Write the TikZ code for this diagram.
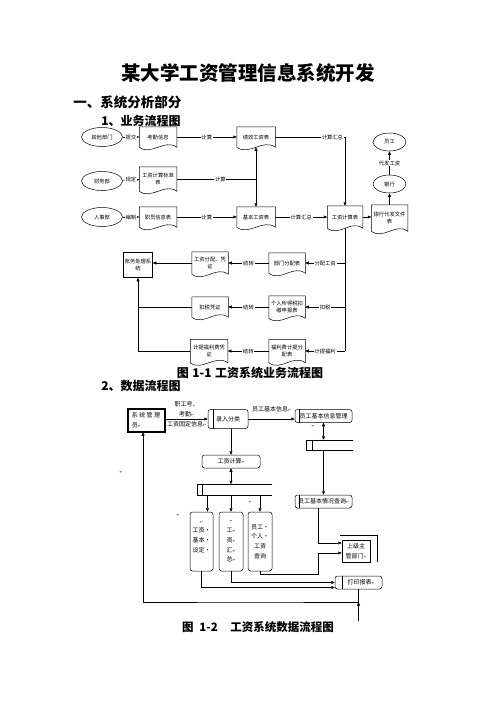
\documentclass[tikz,border=0pt]{standalone}
\usepackage{fontspec}
\setmainfont{Noto Sans CJK SC}
\newfontfamily\dejavu{DejaVu Sans}
\usetikzlibrary{shapes.geometric,arrows.meta,calc}

\newcommand{\ftop}{\fontsize{5.3}{6.3}\selectfont}
\newcommand{\fbot}{\fontsize{6}{9.7}\selectfont}
\newcommand{\retmark}{{\dejavu\fontsize{3.5}{3.5}\selectfont ↵}}
% document outline with wavy bottom
\newcommand{\docshape}[1]{%
	\draw (#1.south west) -- (#1.north west) -- (#1.north east) -- (#1.south east)
		.. controls +(-12,-9) and +(12,9) .. (#1.south west);}
% open data store with a small compartment
\newcommand{\storeshape}[2]{%
	\draw (#1.north east) -- (#1.north west) -- (#1.south west) -- (#1.south east);
	\draw ($(#1.north west)+(#2,0)$) -- ($(#1.south west)+(#2,0)$);}
% bar on the left of a process box
\newcommand{\procbar}[2]{%
	\draw ($(#1.north west)+(#2,0)$) -- ($(#1.south west)+(#2,0)$);}

\tikzset{
	ent/.style={ellipse, draw, minimum width=41, minimum height=19, inner sep=0, font=\ftop},
	doc/.style={rectangle, minimum width=37, minimum height=20, inner sep=0.5, align=center, font=\ftop},
	lbl/.style={fill=white, inner sep=0.8, font=\ftop},
	proc/.style={rectangle, draw, rounded corners=2.5, minimum height=13, inner sep=1, align=center, font=\fbot},
	blbl/.style={inner sep=0.5, align=center, font=\fbot},
	arr/.style={-{Triangle[length=3.5pt,width=3pt]}},
	arrs/.style={{Triangle[length=3.5pt,width=3pt]}-{Triangle[length=3.5pt,width=3pt]}},
	head/.style={anchor=west, inner sep=0, font=\fontsize{12}{13}\selectfont\bfseries}
}

\begin{document}
\begin{tikzpicture}[x=1pt, y=-1pt, line width=0.5pt]
		\useasboundingbox (0,0) rectangle (496,702);
		
		% Headings
		\node[font=\fontsize{19.5}{20}\selectfont\bfseries] (title) at (248,73) {某大学工资管理信息系统开发};
		\node[head, font=\fontsize{13.5}{14}\selectfont\bfseries] (sec1) at (73,102) {一、系统分析部分};
		\node[head] (sub1) at (101,121) {1、业务流程图};
		
		% Business flow: entities
		\node[ent] (qt) at (102,137) {其他部门};
		\node[ent] (cw) at (102,181) {财务部};
		\node[ent] (rs) at (102,217) {人事部};
		\node[ent, minimum width=33, minimum height=18] (yg) at (389.5,142) {员工};
		\node[ent, minimum width=33, minimum height=18] (yh) at (389.5,184) {银行};
		\node[draw, minimum width=29, minimum height=25, inner sep=0, align=center, font=\ftop] (zw) at (138,265) {账务处理系\\统};
		
		% Business flow: documents
		\node[doc] (kq) at (158,137) {考勤信息};
		\node[doc, minimum height=24] (bz) at (158,179) {工资计算标准\\表};
		\node[doc] (zy) at (158,217) {职员信息表};
		\node[doc, minimum width=38] (jx) at (256,137) {绩效工资表};
		\node[doc, minimum width=38] (jb) at (256,217) {基本工资表};
		\node[doc, minimum width=35, minimum height=22] (js) at (345,217) {工资计算表};
		\node[doc, minimum width=36, minimum height=26] (dfwj) at (389.5,218) {银行代发文件\\表};
		\node[doc, minimum width=36] (bm) at (287,263) {部门分配表};
		\node[doc, minimum width=36, minimum height=22] (fp) at (210,263) {工资分配、凭\\证};
		\node[doc, minimum width=36, minimum height=22] (gs) at (287,307) {个人所得税扣\\缴申报表};
		\node[doc, minimum width=36] (ks) at (210,307) {扣税凭证};
		\node[doc, minimum width=36, minimum height=23] (fl) at (287,351) {福利费计提分\\配表};
		\node[doc, minimum width=37, minimum height=23] (jt) at (209,351) {计提福利费凭\\证};
		\foreach \d in {kq,bz,zy,jx,jb,js,dfwj,bm,fp,gs,ks,fl,jt}
			\docshape{\d};
		
		% Business flow: connections
		\draw[arr] (qt) -- node[lbl]{提交} (kq);
		\draw[arr] (cw) -- node[lbl]{规定} (bz);
		\draw[arr] (rs) -- node[lbl]{编制} (zy);
		\draw[arr] (kq) -- node[lbl]{计算} (jx);
		\draw (bz) -- (bz -| jx) node[lbl, pos=0.55]{计算};
		\draw[arrs] (jx) -- (jb);
		\draw[arr] (zy) -- node[lbl]{计算} (jb);
		\draw[arr] (jb) -- node[lbl]{计算汇总} (js);
		\draw[arr] (jx) -- (jx -| js) node[lbl, pos=0.82]{计算汇总} -- (js);
		\draw[arr] (js) -- (js -| dfwj.west);
		\draw[arr] (dfwj) -- (yh);
		\draw[arr] (yh) -- node[lbl]{代发工资} (yg);
		\draw (js.south) -- (js.south |- fl);
		\draw[arr] (js.south |- bm) -- node[lbl]{分配工资} (bm);
		\draw[arr] (js.south |- gs) -- node[lbl]{扣税} (gs);
		\draw[arr] (js.south |- fl) -- node[lbl]{计提福利} (fl);
		\draw[arr] (bm) -- node[lbl]{结转} (fp);
		\draw[arr] (gs) -- node[lbl]{结转} (ks);
		\draw[arr] (fl) -- node[lbl]{结转} (jt);
		\draw[arr] (fp) -- (fp -| zw.east);
		\draw (ks) -- (ks -| zw.south);
		\draw[arr] (jt) -| (zw.south);
		
		\node[font=\fontsize{12}{13}\selectfont\bfseries] (cap1) at (250,373) {图\hspace{0.3em}1-1\hspace{0.3em}工资系统业务流程图};
		\node[head] (sub2) at (101,386) {2、数据流程图};
		
		% Data flow: nodes
		\node[draw, minimum width=38, minimum height=24, inner sep=2, align=left, font=\fbot] (gly) at (146,420) {系~统~管~理\\员\retmark};
		\draw ($(gly.north west)+(1.5,1.5)$) rectangle ($(gly.south east)+(-1.5,-1.5)$);
		\node[proc, minimum width=40, minimum height=19] (lrfl) at (228,419) {录入分类};
		\node[proc, minimum width=57] (ygxx) at (323.5,416) {员工基本信息管理};
		\node[minimum width=47, minimum height=10] (ds1) at (329.5,445) {};
		\node[proc, minimum width=57] (cx) at (323.5,501.5) {员工基本情况查询\retmark};
		\node[proc, minimum width=58] (gzjs) at (231,461.5) {工资计算\retmark};
		\node[minimum width=75, minimum height=10] (ds2) at (234.5,489.5) {};
		\node[proc, minimum width=23, minimum height=59] (bA) at (201.5,541.5) {\retmark\\工资·\\基本·\\设定·\\ \mbox{}};
		\node[proc, minimum width=24, minimum height=59] (bB) at (231,541.5) {\retmark\\工\retmark\\资\retmark\\汇\retmark\\总\retmark};
		\node[proc, minimum width=24, minimum height=59] (bC) at (260,541.5) {员工·\\个人·\\工资\\查询};
		\node[draw, minimum width=28, minimum height=22, inner sep=0.5, align=center, font=\fbot] (sj) at (356,551) {上级主\\管部门\retmark};
		\node[proc, minimum width=47] (dy) at (358.5,582.5) {\hspace{5pt}打印报表\retmark};
		\foreach \s/\w in {ds1/6, ds2/5}
			\storeshape{\s}{\w};
		\foreach \p/\w in {lrfl/5, ygxx/4, cx/4, dy/7}
			\procbar{\p}{\w};
		\draw ($(sj.north west)+(-2,-5)$) -| ($(sj.south east)+(7,0)$);
		
		% stray paragraph marks
		\node[inner sep=0] (m1) at (121,472) {\retmark};
		\node[inner sep=0] (m2) at (178,515) {\retmark};
		\node[inner sep=0] (m3) at (250,502) {\retmark};
		\node[inner sep=0] (m4) at (313,426) {\retmark};
		
		% Data flow: connections
		\coordinate (aA) at ($(bA.north)+(6,0)$);
		\coordinate (kC) at (318,574);
		\coordinate (fb) at (250,602);
		\coordinate (pin) at (358.5,621);
		\draw[arr] (gly.east |- lrfl.west) -- node[blbl, above=1.5pt]{职工号、\\考勤\retmark} node[blbl, below=1.5pt]{工资固定信息\retmark} (lrfl.west);
		\draw[arr] (lrfl.east) -- node[blbl, above=6pt]{员工基本信息\retmark} (lrfl.east -| ygxx.west);
		\draw[arrs] (ygxx.south) -- (ygxx.south |- ds1.north);
		\draw[arr] (ds1.south -| cx.north) -- (cx.north);
		\draw[arr] (lrfl.south -| gzjs.north) -- (gzjs.north);
		\draw[arrs] (gzjs.south) -- (gzjs.south |- ds2.north);
		\draw[arr] (aA |- ds2.south) -- (aA);
		\draw[arr] (bB.north |- ds2.south) -- (bB.north);
		\draw[arr] (bC.north |- ds2.south) -- (bC.north);
		\draw[arr] ($(cx.south)+(-5,0)$) |- ($(sj.west)+(0,-8)$);
		\draw[arr] (bC.south) |- (kC) |- ($(sj.west)+(0,2)$);
		\draw[arr] (bB.south) |- (dy.west);
		\draw[arr] (bA.south) |- ($(dy.west)+(0,5)$);
		\draw[arr] (dy.south) |- (fb) -| ($(gly.south)+(-3,0)$);
		\draw[arr] (pin) -- (pin |- fb);
		
		\node[font=\fontsize{11.5}{12}\selectfont\bfseries] (cap2) at (258,627) {图\hspace{0.5em}1-2\hspace{1.1em}工资系统数据流程图};
	\end{tikzpicture}
\end{document}
